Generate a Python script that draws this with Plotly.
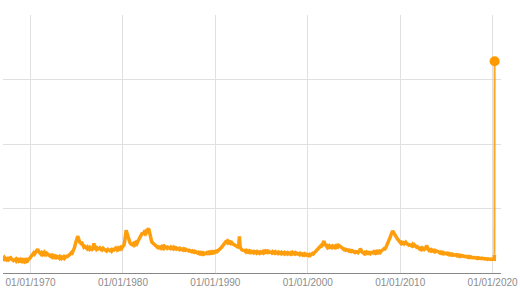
import pandas as pd
import plotly.graph_objects as go

# Weekly initial claims (thousands), one value per month 1967-01 .. 2020-02
claims_k = [
    232, 218, 241, 226, 212, 238, 221, 244, 215, 229, 236, 219,  # 1967
    214, 198, 219, 190, 206, 188, 212, 195, 186, 204, 192, 207,  # 1968
    188, 201, 183, 196, 180, 199, 185, 203, 191, 208, 215, 232,  # 1969
    248, 262, 281, 300, 312, 296, 318, 330, 352, 371, 338, 322,  # 1970
    318, 296, 311, 289, 305, 292, 318, 301, 286, 304, 293, 281,  # 1971
    278, 262, 271, 255, 268, 249, 263, 246, 258, 241, 255, 244,  # 1972
    238, 252, 231, 246, 228, 243, 235, 250, 229, 244, 257, 262,  # 1973
    258, 276, 268, 290, 302, 318, 309, 336, 362, 398, 452, 508,  # 1974
    552, 571, 538, 502, 466, 481, 438, 452, 417, 401, 412, 389,  # 1975
    392, 378, 401, 386, 372, 395, 381, 399, 374, 388, 462, 386,  # 1976
    392, 371, 389, 376, 394, 368, 386, 372, 391, 366, 383, 370,  # 1977
    366, 352, 371, 348, 362, 344, 369, 351, 358, 342, 366, 353,  # 1978
    358, 371, 354, 378, 362, 381, 369, 388, 376, 394, 381, 402,  # 1979
    418, 431, 482, 598, 662, 621, 574, 518, 482, 466, 452, 441,  # 1980
    438, 452, 436, 458, 446, 471, 458, 489, 512, 541, 568, 589,  # 1981
    602, 621, 598, 624, 611, 638, 622, 648, 671, 692, 648, 566,  # 1982
    508, 486, 472, 461, 446, 428, 419, 408, 412, 396, 404, 391,  # 1983
    398, 386, 405, 392, 408, 389, 411, 396, 402, 384, 399, 391,  # 1984
    396, 381, 398, 384, 392, 378, 396, 381, 389, 374, 386, 372,  # 1985
    378, 364, 381, 367, 374, 359, 372, 358, 369, 355, 364, 351,  # 1986
    356, 342, 351, 338, 345, 332, 341, 328, 336, 322, 331, 318,  # 1987
    322, 309, 318, 303, 314, 299, 311, 296, 308, 294, 305, 299,  # 1988
    302, 315, 306, 319, 308, 322, 311, 325, 314, 328, 318, 331,  # 1989
    326, 338, 331, 344, 352, 361, 368, 386, 402, 421, 438, 452,  # 1990
    468, 482, 476, 491, 472, 486, 469, 478, 461, 472, 455, 448,  # 1991
    442, 431, 424, 418, 410, 402, 415, 568, 396, 372, 361, 354,  # 1992
    352, 338, 349, 333, 345, 329, 341, 326, 338, 322, 334, 321,  # 1993
    328, 316, 331, 318, 326, 312, 329, 315, 322, 309, 324, 312,  # 1994
    318, 331, 316, 334, 321, 338, 325, 336, 322, 333, 319, 328,  # 1995
    324, 312, 328, 315, 322, 309, 326, 313, 318, 306, 321, 309,  # 1996
    314, 302, 318, 305, 311, 298, 315, 302, 309, 297, 312, 301,  # 1997
    306, 295, 311, 298, 316, 302, 309, 296, 312, 299, 305, 294,  # 1998
    299, 287, 302, 289, 295, 282, 291, 279, 294, 281, 288, 277,  # 1999
    282, 271, 286, 274, 283, 292, 304, 296, 311, 318, 332, 346,  # 2000
    352, 366, 379, 401, 412, 426, 418, 431, 478, 492, 448, 421,  # 2001
    412, 398, 416, 403, 418, 401, 409, 396, 414, 402, 411, 398,  # 2002
    416, 404, 421, 408, 426, 412, 418, 402, 394, 378, 371, 362,  # 2003
    368, 354, 362, 348, 355, 342, 351, 338, 346, 333, 342, 331,  # 2004
    328, 317, 331, 319, 326, 315, 329, 318, 384, 352, 328, 316,  # 2005
    312, 301, 316, 304, 321, 308, 318, 306, 314, 302, 317, 309,  # 2006
    314, 326, 312, 324, 311, 328, 316, 331, 319, 334, 322, 338,  # 2007
    344, 356, 368, 379, 372, 388, 412, 448, 472, 486, 524, 558,  # 2008
    596, 628, 652, 634, 608, 586, 562, 548, 532, 518, 494, 478,  # 2009
    472, 458, 474, 461, 468, 452, 466, 478, 462, 451, 446, 432,  # 2010
    438, 424, 431, 418, 442, 426, 438, 421, 416, 402, 409, 396,  # 2011
    388, 374, 382, 368, 386, 372, 381, 366, 378, 364, 428, 382,  # 2012
    368, 352, 361, 347, 358, 343, 352, 338, 331, 346, 334, 342,  # 2013
    336, 342, 326, 314, 322, 309, 318, 304, 312, 298, 306, 301,  # 2014
    306, 294, 302, 289, 297, 284, 292, 279, 288, 276, 285, 278,  # 2015
    282, 271, 279, 266, 274, 262, 271, 259, 268, 257, 264, 256,  # 2016
    258, 249, 256, 246, 253, 243, 251, 241, 248, 239, 246, 238,  # 2017
    241, 232, 238, 229, 236, 226, 234, 224, 231, 222, 229, 221,  # 2018
    226, 218, 224, 215, 222, 213, 220, 212, 219, 210, 217, 214,  # 2019
    216, 212,                                                    # 2020
]
# Final weekly readings of March 2020 (thousands)
march_dates = ["2020-03-07", "2020-03-14", "2020-03-21"]
march_claims_k = [211, 282, 3283]

tick_dates = ["1970-01-01", "1980-01-01", "1990-01-01", "2000-01-01", "2010-01-01", "2020-01-01"]
tick_labels = ["01/01/1970", "01/01/1980", "01/01/1990", "01/01/2000", "01/01/2010", "01/01/2020"]

month_dates = [d.strftime("%Y-%m-%d") for d in
               pd.date_range("1967-01-01", periods=len(claims_k), freq="MS") + pd.Timedelta(days=6)]
x_hist = month_dates + march_dates[:2]
y_hist = claims_k + march_claims_k[:2]

ORANGE = "#FF9900"

fig = go.Figure()
# long history: fuzzy band
fig.add_trace(go.Scatter(x=x_hist, y=y_hist, mode="lines",
                         line=dict(color=ORANGE, width=3.5), opacity=0.95, hoverinfo="skip"))
# final jump of March 2020
fig.add_trace(go.Scatter(x=march_dates[1:], y=march_claims_k[1:], mode="lines",
                         line=dict(color=ORANGE, width=2), opacity=0.85, hoverinfo="skip"))
fig.add_trace(go.Scatter(x=[march_dates[-1]], y=[march_claims_k[-1]], mode="markers",
                         marker=dict(color=ORANGE, size=10), hoverinfo="skip"))

fig.update_layout(
    width=520, height=295,
    margin=dict(l=3, r=19, t=15, b=22),
    paper_bgcolor="white", plot_bgcolor="white",
    showlegend=False,
    font=dict(family="Arial, Liberation Sans, sans-serif", size=10, color="#8c8c8c"),
    xaxis=dict(type="date", range=["1967-01-07", "2020-11-28"],
               tickvals=tick_dates, ticktext=tick_labels,
               showgrid=True, gridcolor="#e0e0e0", gridwidth=1,
               showline=True, linecolor="#888", linewidth=1,
               ticks="", zeroline=False),
    yaxis=dict(range=[0, 4000], dtick=1000, showticklabels=False,
               showgrid=True, gridcolor="#e0e0e0", gridwidth=1,
               zeroline=False, ticks=""),
)

fig.write_html("out.html")
